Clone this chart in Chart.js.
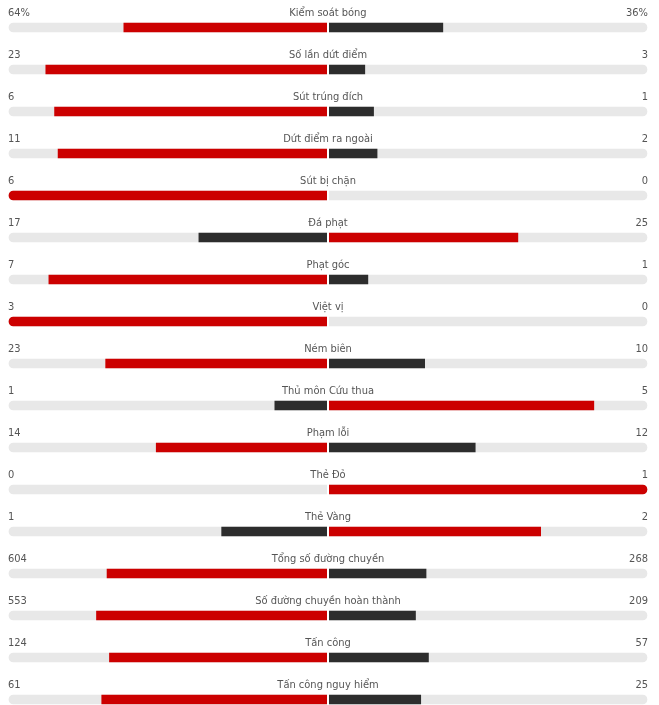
<!DOCTYPE html>
<html lang="vi">
<head>
  <meta charset="UTF-8">
  <title>Thống kê trận đấu</title>
  <script src="https://cdn.jsdelivr.net/npm/chart.js"></script>
  <style>
    html, body {
      margin: 0;
      padding: 0;
      background: #fff;
    }

    #wrap {
      position: relative;
      width: 659px;
      height: 705px;
    }
  </style>
</head>
<body>
  <div id="wrap">
    <canvas id="statsChart"></canvas>
  </div>

  <script>
    const statLabels = [
      'Kiểm soát bóng', 'Số lần dứt điểm', 'Sút trúng đích', 'Dứt điểm ra ngoài',
      'Sút bị chặn', 'Đá phạt', 'Phạt góc', 'Việt vị', 'Ném biên',
      'Thủ môn Cứu thua', 'Phạm lỗi', 'Thẻ Đỏ', 'Thẻ Vàng',
      'Tổng số đường chuyền', 'Số đường chuyền hoàn thành', 'Tấn công', 'Tấn công nguy hiểm'
    ];
    const homeValues = [64, 23, 6, 11, 6, 17, 7, 3, 23, 1, 14, 0, 1, 604, 553, 124, 61];
    const awayValues = [36, 3, 1, 2, 0, 25, 1, 0, 10, 5, 12, 1, 2, 268, 209, 57, 25];
    const valueUnits = ['%', '', '', '', '', '', '', '', '', '', '', '', '', '', '', '', ''];

    const RED = '#cc0000';
    const DARK = '#2d2d2d';
    const TRACK = '#e8e8e8';
    const TEXT = '#555555';
    const FONT = '11px "DejaVu Sans Condensed", "DejaVu Sans", sans-serif';

    const share = (a, b) => (a + b === 0 ? 0 : a / (a + b));
    const homeShare = homeValues.map((v, i) => -share(v, awayValues[i]));
    const awayShare = awayValues.map((v, i) => share(v, homeValues[i]));
    const homeColors = homeValues.map((v, i) => (v >= awayValues[i] ? RED : DARK));
    const awayColors = awayValues.map((v, i) => (v > homeValues[i] ? RED : DARK));

    // white gap in the middle and the texts above each bar
    const rowText = {
      id: 'rowText',
      afterDatasetsDraw(chart) {
        const { ctx, scales: { x, y } } = chart;
        const cx = x.getPixelForValue(0);
        ctx.save();
        ctx.fillStyle = '#fff';
        statLabels.forEach((_, i) => {
          const cy = y.getPixelForValue(i);
          ctx.fillRect(cx - 1, cy - 6, 2, 12);
        });
        ctx.restore();
      },
      afterDraw(chart) {
        const { ctx, scales: { x, y } } = chart;
        const cx = x.getPixelForValue(0);
        const left = x.getPixelForValue(-1);
        const right = x.getPixelForValue(1);
        ctx.save();
        ctx.font = FONT;
        ctx.fillStyle = TEXT;
        ctx.textBaseline = 'alphabetic';
        statLabels.forEach((label, i) => {
          const ty = y.getPixelForValue(i) - 11.5;
          ctx.textAlign = 'left';
          ctx.fillText(homeValues[i] + valueUnits[i], left - 1, ty);
          ctx.textAlign = 'center';
          ctx.fillText(label, cx, ty);
          ctx.textAlign = 'right';
          ctx.fillText(awayValues[i] + valueUnits[i], right + 1, ty);
        });
        ctx.restore();
      }
    };

    new Chart(document.getElementById('statsChart'), {
      type: 'bar',
      data: {
        labels: statLabels,
        datasets: [
          {
            label: 'Đội nhà',
            data: homeShare,
            backgroundColor: homeColors,
            borderRadius: (c) => (Math.abs(c.raw) === 1 ? 4.5 : 0),
            order: 0,
            clip: false
          },
          {
            label: 'Đội khách',
            data: awayShare,
            backgroundColor: awayColors,
            borderRadius: (c) => (Math.abs(c.raw) === 1 ? 4.5 : 0),
            order: 1,
            clip: false
          },
          {
            label: 'nền',
            data: statLabels.map(() => [-1, 1]),
            backgroundColor: TRACK,
            borderSkipped: false,
            borderRadius: 4.5,
            order: 2,
            clip: false
          }
        ]
      },
      options: {
        indexAxis: 'y',
        responsive: true,
        maintainAspectRatio: false,
        animation: false,
        grouped: false,
        barThickness: 9,
        layout: {
          padding: { top: 27.5, bottom: 5.5, left: 9, right: 12 }
        },
        plugins: {
          legend: { display: false },
          tooltip: { enabled: false }
        },
        scales: {
          x: { display: false, min: -1, max: 1 },
          y: { display: false, offset: false, grid: { offset: false } }
        }
      },
      plugins: [rowText]
    });
  </script>
</body>
</html>
